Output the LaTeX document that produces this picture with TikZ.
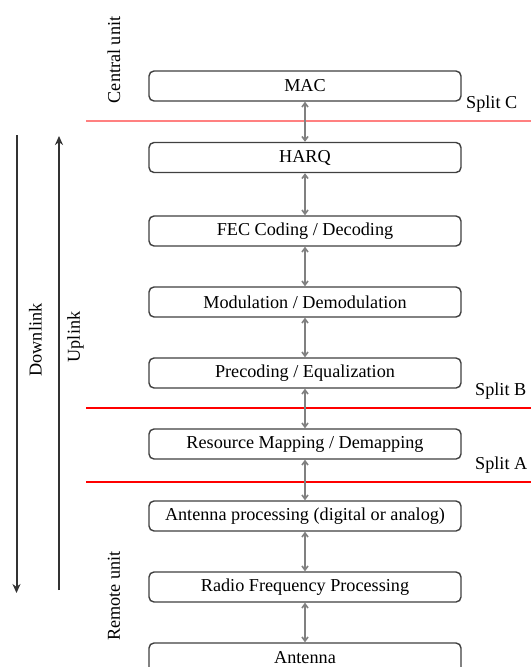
\documentclass[tikz,border=0pt]{standalone}
\usepackage{fontspec}
\setmainfont{Liberation Serif}
\newfontfamily\diagfont{Liberation Serif}
\usetikzlibrary{arrows.meta}
\definecolor{boxline}{HTML}{404040}
\definecolor{connline}{HTML}{808080}
\definecolor{splitred}{HTML}{FF0000}
\definecolor{splitpink}{HTML}{FF8080}
\tikzset{
  layerbox/.style={draw=boxline, line width=1.4pt, rounded corners=5pt, minimum width=312pt, minimum height=30pt, inner sep=0pt, fill=white},
  conn/.style={draw=connline, line width=1.6pt, {Straight Barb[length=4pt,width=6pt]}-{Straight Barb[length=4pt,width=6pt]}},
  flow/.style={draw=boxline!80!black, line width=2pt, -{Stealth[length=9pt,width=8pt]}},
  splitline/.style={draw=splitred, line width=1.8pt},
  lbl/.style={inner sep=0pt, anchor=center},
  txt/.style={font=\diagfont\fontsize{18.2}{20}\selectfont}
}
\begin{document}
\begin{tikzpicture}[x=1pt,y=-1pt, every node/.style={txt}]
\useasboundingbox (0,0) rectangle (531,667);
\clip (0,0) rectangle (531,667);
\fill[white] (0,0) rectangle (531,667);
% split lines
\coordinate (cL) at (86,120.5); \coordinate (cR) at (531,120.5);
\coordinate (bL) at (86,408); \coordinate (bR) at (531,408);
\coordinate (aL) at (86,482); \coordinate (aR) at (531,482);
\draw[splitline, draw=splitpink, line width=2pt] (cL) -- (cR);
\draw[splitline] (bL) -- (bR);
\draw[splitline] (aL) -- (aR);
\node[lbl, anchor=west] (splitc) at (466,104.5) {Split C};
\node[lbl, anchor=west] (splitb) at (475,391) {Split B};
\node[lbl, anchor=west] (splita) at (475,465) {Split A};
% boxes
\node[layerbox] (mac)  at (305,86)    {MAC};
\node[layerbox] (harq) at (305,157.5) {HARQ};
\node[layerbox] (fec)  at (305,231)   {FEC Coding / Decoding};
\node[layerbox] (mod)  at (305,302)   {Modulation / Demodulation};
\node[layerbox] (pre)  at (305,373)   {Precoding / Equalization};
\node[layerbox] (res)  at (305,444)   {Resource Mapping / Demapping};
\node[layerbox] (ant)  at (305,516)   {Antenna processing (digital or analog)};
\node[layerbox] (rf)   at (305,587)   {Radio Frequency Processing};
\node[layerbox] (antenna) at (305,658) {Antenna};
% connectors
\draw[conn] (mac.south) -- (harq.north);
\draw[conn] (harq.south) -- (fec.north);
\draw[conn] (fec.south) -- (mod.north);
\draw[conn] (mod.south) -- (pre.north);
\draw[conn] (pre.south) -- (res.north);
\draw[conn] (res.south) -- (ant.north);
\draw[conn] (ant.south) -- (rf.north);
\draw[conn] (rf.south) -- (antenna.north);
% downlink / uplink
\coordinate (dlTop) at (16.5,135); \coordinate (dlBot) at (16.5,593);
\coordinate (ulBot) at (59,590);   \coordinate (ulTop) at (59,136);
\draw[flow] (dlTop) -- (dlBot);
\draw[flow] (ulBot) -- (ulTop);
\node[lbl, rotate=90] (downlink) at (35.5,340) {Downlink};
\node[lbl, rotate=90] (uplink) at (75.5,337) {Uplink};
\node[lbl, rotate=90] (central) at (114,60) {Central unit};
\node[lbl, rotate=90] (remote) at (114,596) {Remote unit};
\end{tikzpicture}
\end{document}
